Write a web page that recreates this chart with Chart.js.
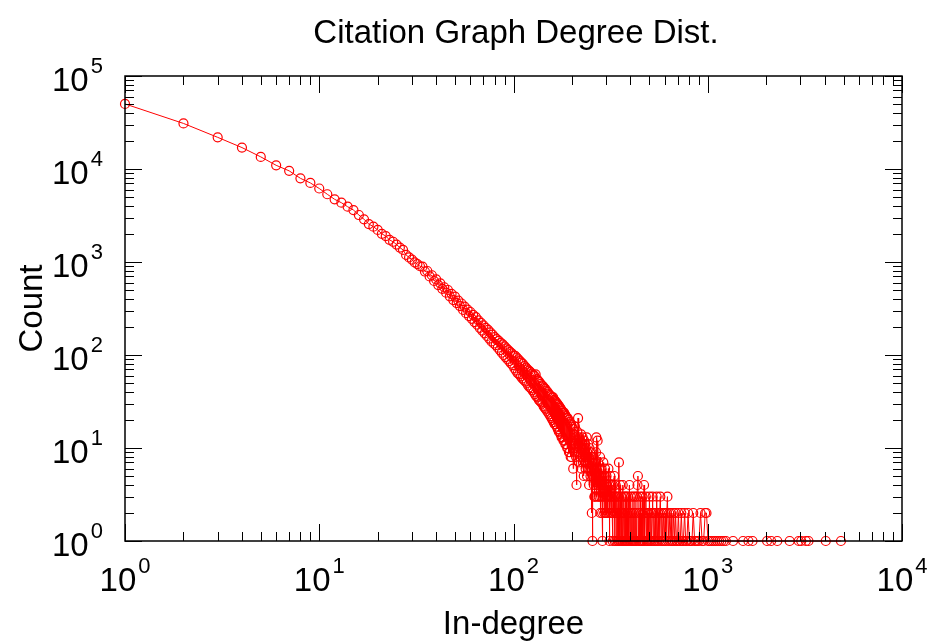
<!DOCTYPE html>
<html>
<head>
<meta charset="utf-8">
<script src="https://cdn.jsdelivr.net/npm/chart.js@4.4.1/dist/chart.umd.min.js"></script>
<style>
body { margin: 0; background: #ffffff; }
</style>
</head>
<body>
<canvas id="graphique" width="930" height="642"></canvas>
<script>
const TITRE = "Citation Graph Degree Dist.";
const TITRE_X = "In-degree";
const TITRE_Y = "Count";
const POLICE = "'Liberation Sans', Arial, Helvetica, sans-serif";

// In-degree (x) and number of nodes with that in-degree (y)
let degres = [
    1, 2, 3, 4, 5, 6, 7, 8, 9, 10, 11, 12, 13, 14, 15, 16, 17, 18, 19, 20, 21, 22, 23, 24, 25, 26, 27, 28, 29, 30,
    31, 32, 33, 34, 35, 36, 37, 38, 39, 40, 41, 42, 43, 44, 45, 46, 47, 48, 49, 50, 51, 52, 53, 54, 55, 56, 57, 58, 59, 60,
    61, 62, 63, 64, 65, 66, 67, 68, 69, 70, 71, 72, 73, 74, 75, 76, 77, 78, 79, 80, 81, 82, 83, 84, 85, 86, 87, 88, 89, 90,
    91, 92, 93, 94, 95, 96, 97, 98, 99, 100, 101, 102, 103, 104, 105, 106, 107, 108, 109, 110, 111, 112, 113, 114, 115, 116, 117, 118, 119, 120,
    121, 122, 123, 124, 125, 126, 127, 128, 129, 130, 131, 132, 133, 134, 135, 136, 137, 138, 139, 140, 141, 142, 143, 144, 145, 146, 147, 148, 149, 150,
    151, 152, 153, 154, 155, 156, 157, 158, 159, 160, 161, 162, 163, 164, 165, 166, 167, 168, 169, 170, 171, 172, 173, 174, 175, 176, 177, 178, 179, 180,
    181, 182, 183, 184, 185, 186, 187, 188, 189, 190, 191, 192, 193, 194, 195, 196, 197, 198, 199, 200, 201, 202, 203, 204, 205, 206, 207, 208, 209, 210,
    211, 212, 213, 214, 215, 216, 217, 218, 219, 220, 221, 222, 223, 224, 225, 226, 227, 228, 229, 230, 231, 232, 233, 234, 235, 236, 237, 238, 239, 240,
    241, 242, 243, 244, 245, 246, 247, 248, 249, 250,
    251, 252, 253, 254, 255, 256, 258, 259, 260, 261, 262, 263, 264, 265, 266, 267, 268, 269, 270, 271, 272, 273, 274, 275, 276, 277, 278, 279, 280, 281,
    283, 284, 285, 286, 287, 288, 289, 290, 292, 293, 294, 295, 296, 298, 299, 300, 301, 302, 304, 305, 306, 308, 309, 311, 312, 313, 315, 316, 318, 319,
    321, 322, 324, 325, 327, 328, 330, 332, 333, 335, 336, 338, 339, 341, 343, 345, 346, 348, 349, 351, 353, 354, 356, 358, 359, 361, 363, 365, 366, 368,
    370, 372, 374, 375, 377, 379, 381, 383, 385, 387, 389, 391, 393, 395, 398, 400, 402, 405, 407, 409, 412, 414, 417, 419, 422, 424, 427, 430, 432, 435,
    437, 440, 443, 446, 449, 452, 455, 458, 461, 464, 467, 470, 473, 476, 480, 483, 487, 490, 494, 497, 501, 505, 509, 513, 517, 520, 524, 528, 532, 537,
    541, 546, 551, 556, 561, 566, 570, 575, 580, 586, 591, 597, 603, 609, 615, 620, 626, 633, 640, 647, 654, 661, 668, 676, 683, 690, 698, 706, 714, 722,
    731, 740, 749, 760, 770, 781, 792, 804, 816, 829, 842, 856, 870, 885, 901, 918, 935, 952, 970, 985, 1003, 1022, 1045, 1068, 1092, 1118, 1146, 1175, 1206, 1240,
    1350, 1520, 1620, 1700, 2020, 2120, 2280, 2640, 2940, 3030, 3200, 3300, 4050, 4850
];

let nombres = [
    50100, 30900, 21900, 17000, 13500, 10960, 9550, 7940, 7080, 6170, 5350, 4720, 4340, 3930, 3620, 3200, 2880, 2560, 2400, 2210, 2010, 1900, 1730, 1650, 1540, 1430, 1350, 1190, 1120, 1060,
    990, 950, 900, 890, 790, 800, 700, 720, 625, 650, 565, 590, 515, 535, 468, 500, 428, 455, 390, 425, 362, 385, 336, 358, 305, 332, 282, 308, 262, 290,
    245, 270, 226, 255, 212, 236, 196, 222, 183, 208, 171, 196, 160, 186, 150, 175, 140, 166, 133, 156, 128, 148, 120, 142, 113, 135, 106, 130, 100, 124,
    95, 118, 90, 113, 86, 108, 81, 104, 78, 99, 72, 98, 68, 94, 64, 90, 62, 86, 59, 83, 56, 80, 54, 76, 52, 73, 50, 70, 47, 68,
    45, 66, 44, 63, 42, 61, 40, 60, 38, 62, 36, 55, 35, 53, 33, 51, 32, 49, 31, 47, 30, 46, 28, 44, 27, 43, 26, 41, 25, 40,
    24, 38, 23, 37, 22, 36, 21, 35, 20, 35, 19, 33, 18, 32, 18, 31, 17, 30, 16, 29, 15, 28, 15, 27, 14, 26, 13, 25, 13, 24,
    12, 24, 12, 23, 11, 22, 11, 21, 10, 21, 10, 20, 9, 19, 9, 18, 8, 18, 8, 17, 12, 16, 6, 11, 14, 9, 17, 10, 13, 8,
    4, 12, 15, 9, 21, 11, 7, 13, 10, 8, 12, 9, 14, 6, 11, 8, 13, 7, 10, 5, 12, 9, 7, 11, 6, 10, 8, 13, 5, 9,
    7, 11, 6, 8, 4, 10, 7, 9, 5, 8,
    6, 9, 2, 7, 1, 5, 8, 4, 6, 3, 3, 7, 5, 4, 9, 13, 6, 3, 5, 12, 4, 7, 3, 5, 6, 3, 4, 8, 2, 5,
    3, 6, 4, 2, 1, 5, 3, 7, 4, 2, 5, 3, 6, 2, 4, 2, 5, 3, 4, 3, 2, 6, 3, 4, 1, 2, 5, 3, 2, 4,
    3, 2, 1, 4, 3, 2, 5, 1, 3, 2, 4, 1, 2, 3, 2, 1, 3, 1, 7, 2, 1, 4, 2, 1, 3, 2, 1, 4, 1, 2,
    3, 1, 2, 1, 3, 1, 3, 1, 2, 1, 3, 2, 1, 4, 1, 2, 3, 1, 2, 1, 3, 1, 2, 1, 3, 1, 2, 1, 3, 4,
    5, 1, 2, 1, 3, 1, 2, 1, 3, 1, 2, 4, 1, 2, 3, 1, 2, 1, 2, 1, 3, 1, 2, 1, 2, 3, 1, 2, 1, 2,
    1, 3, 1, 2, 1, 2, 3, 1, 2, 1, 2, 1, 2, 1, 2, 3, 1, 2, 1, 2, 1, 1, 2, 1, 2, 1, 1, 2, 1, 1,
    2, 1, 1, 2, 1, 1, 2, 1, 1, 1, 2, 1, 1, 1, 1, 2, 1, 1, 2, 2, 1, 1, 1, 1, 1, 1, 1, 1, 1, 1,
    1, 1, 1, 1, 1, 1, 1, 1, 1, 1, 1, 1, 1, 1
];

// Tick positions (powers of ten and minor multiples)
let decadesX = [0, 1, 2, 3, 4];
let decadesY = [0, 1, 2, 3, 4, 5];
let mineurs = [2, 3, 4, 5, 6, 7, 8, 9];

let points = [];
for (let i = 0; i < degres.length; i++) {
    points.push({ x: degres[i], y: nombres[i] });
}

// "10" with the exponent raised to its right
function etiquette(ctx, exposant, x, y, centre) {
    ctx.font = "33px " + POLICE;
    let l1 = ctx.measureText("10").width;
    ctx.font = "22px " + POLICE;
    let l2 = ctx.measureText(String(exposant)).width;
    let debut = x;
    if (centre) debut = x - (l1 + 2 + l2) / 2;
    ctx.textAlign = "left";
    ctx.textBaseline = "alphabetic";
    ctx.font = "33px " + POLICE;
    ctx.fillText("10", debut, y);
    ctx.font = "22px " + POLICE;
    ctx.fillText(String(exposant), debut + l1 + 2, y - 18);
}

// Frame, inward ticks on all four sides, labels and titles (gnuplot look)
let cadre = {
    id: "cadre",
    afterDatasetsDraw(chart) {
        let ctx = chart.ctx;
        let zone = chart.chartArea;
        let sx = chart.scales.x;
        let sy = chart.scales.y;

        ctx.save();
        ctx.strokeStyle = "#000000";
        ctx.fillStyle = "#000000";
        ctx.lineWidth = 1;

        function trait(x1, y1, x2, y2) {
            ctx.beginPath();
            ctx.moveTo(x1, y1);
            ctx.lineTo(x2, y2);
            ctx.stroke();
        }

        for (let i = 0; i < decadesX.length; i++) {
            let px = Math.round(sx.getPixelForValue(Math.pow(10, decadesX[i]))) + 0.5;
            trait(px, zone.bottom, px, zone.bottom - 17);
            trait(px, zone.top, px, zone.top + 17);
            if (i < decadesX.length - 1) {
                for (let m = 0; m < mineurs.length; m++) {
                    let pm = Math.round(sx.getPixelForValue(mineurs[m] * Math.pow(10, decadesX[i]))) + 0.5;
                    trait(pm, zone.bottom, pm, zone.bottom - 9);
                    trait(pm, zone.top, pm, zone.top + 9);
                }
            }
            etiquette(ctx, decadesX[i], sx.getPixelForValue(Math.pow(10, decadesX[i])), 591, true);
        }

        for (let i = 0; i < decadesY.length; i++) {
            let py = Math.round(sy.getPixelForValue(Math.pow(10, decadesY[i]))) + 0.5;
            trait(zone.left, py, zone.left + 17, py);
            trait(zone.right, py, zone.right - 17, py);
            if (i < decadesY.length - 1) {
                for (let m = 0; m < mineurs.length; m++) {
                    let pm = Math.round(sy.getPixelForValue(mineurs[m] * Math.pow(10, decadesY[i]))) + 0.5;
                    trait(zone.left, pm, zone.left + 9, pm);
                    trait(zone.right, pm, zone.right - 9, pm);
                }
            }
            etiquette(ctx, decadesY[i], 52, sy.getPixelForValue(Math.pow(10, decadesY[i])) + 15, false);
        }

        ctx.lineWidth = 1.5;
        ctx.strokeRect(zone.left, zone.top, zone.right - zone.left, zone.bottom - zone.top);

        ctx.font = "33px " + POLICE;
        ctx.textAlign = "center";
        ctx.textBaseline = "alphabetic";
        ctx.fillText(TITRE, 516, 43);
        ctx.fillText(TITRE_X, (zone.left + zone.right) / 2, 634);

        ctx.translate(42, (zone.top + zone.bottom) / 2);
        ctx.rotate(-Math.PI / 2);
        ctx.fillText(TITRE_Y, 0, 0);
        ctx.restore();
    }
};

new Chart(document.getElementById("graphique"), {
    type: "line",
    data: {
        datasets: [{
            data: points,
            borderColor: "#ff0000",
            borderWidth: 1,
            tension: 0,
            pointStyle: "circle",
            pointRadius: 4.5,
            pointBorderWidth: 1.2,
            pointBorderColor: "#ff0000",
            pointBackgroundColor: "rgba(0, 0, 0, 0)",
            clip: false
        }]
    },
    options: {
        responsive: false,
        animation: false,
        layout: { padding: { left: 125, top: 76, right: 28, bottom: 101 } },
        plugins: { legend: { display: false }, tooltip: { enabled: false } },
        scales: {
            x: { type: "logarithmic", min: 1, max: 10000, display: false },
            y: { type: "logarithmic", min: 1, max: 100000, display: false }
        }
    },
    plugins: [cadre]
});
</script>
</body>
</html>
